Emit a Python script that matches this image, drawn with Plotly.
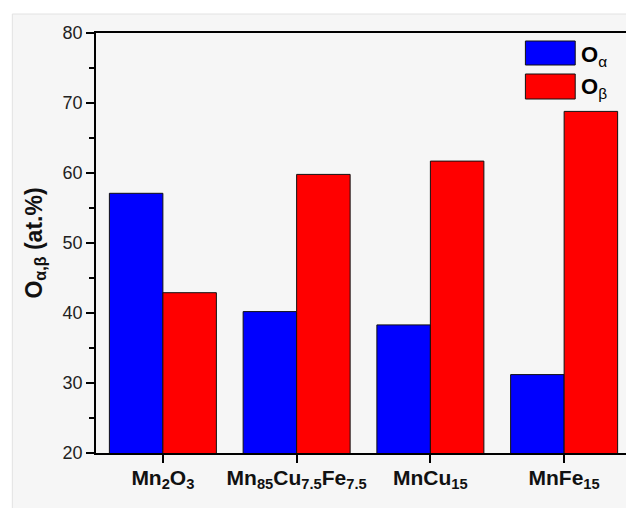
import plotly.graph_objects as go

categories = ["Mn<sub>2</sub>O<sub>3</sub>",
              "Mn<sub>85</sub>Cu<sub>7.5</sub>Fe<sub>7.5</sub>",
              "MnCu<sub>15</sub>",
              "MnFe<sub>15</sub>"]
o_alpha = [57.1, 40.2, 38.3, 31.2]
o_beta = [42.9, 59.8, 61.7, 68.8]
y_ticks = [20, 30, 40, 50, 60, 70, 80]

# page has an 8px body margin; figure occupies page pixels 8..634 / 8..508
OFF = 8
W, H = 626, 500
L, R, T, B = 96 - OFF, 1, 33 - OFF, 55
pw = W - L - R
ph = H - T - B

def px2x(p):
    return (p - OFF - L) / pw

def py2y(p):
    return (H - B - (p - OFF)) / ph

font_family = "Liberation Sans, Arial, sans-serif"

fig = go.Figure()
fig.add_trace(go.Bar(x=list(range(4)), y=o_alpha, name="O<sub>α</sub>",
                     marker=dict(color="#0000ff", line=dict(color="#111111", width=1)),
                     width=0.4, offset=-0.4, showlegend=False))
fig.add_trace(go.Bar(x=list(range(4)), y=o_beta, name="O<sub>β</sub>",
                     marker=dict(color="#ff0000", line=dict(color="#111111", width=1)),
                     width=0.4, offset=0.0, showlegend=False))

shapes = [
    # card background
    dict(type="rect", xref="paper", yref="paper", x0=px2x(12), x1=px2x(700),
         y0=py2y(700), y1=py2y(14), fillcolor="#f6f6f6",
         line=dict(color="#e2e2e2", width=1), layer="below"),
    # legend swatches
    dict(type="rect", xref="paper", yref="paper", x0=px2x(527), x1=px2x(577),
         y0=py2y(65), y1=py2y(41), fillcolor="#0000ff",
         line=dict(color="#111111", width=1)),
    dict(type="rect", xref="paper", yref="paper", x0=px2x(527), x1=px2x(577),
         y0=py2y(99), y1=py2y(74), fillcolor="#ff0000",
         line=dict(color="#111111", width=1)),
]
annotations = [
    dict(xref="paper", yref="paper", x=px2x(581), y=py2y(56), xanchor="left", yanchor="middle",
         text="<b>O</b><sub>α</sub>", showarrow=False,
         font=dict(family=font_family, size=22, color="#000")),
    dict(xref="paper", yref="paper", x=px2x(581), y=py2y(88), xanchor="left", yanchor="middle",
         text="<b>O</b><sub>β</sub>", showarrow=False,
         font=dict(family=font_family, size=22, color="#000")),
]

fig.update_layout(
    width=W, height=H,
    margin=dict(l=L, r=R, t=T, b=B),
    paper_bgcolor="#ffffff",
    plot_bgcolor="#f6f6f6",
    barmode="overlay",
    shapes=shapes,
    annotations=annotations,
    font=dict(family=font_family, color="#111"),
    xaxis=dict(
        range=[-0.5, 3.5],
        tickmode="array", tickvals=list(range(4)),
        ticktext=["<b>" + c + "</b>" for c in categories],
        ticks="outside", ticklen=8, tickwidth=1.5, tickcolor="#000",
        showline=True, linecolor="#000", linewidth=1.5, mirror=True,
        showgrid=False, zeroline=False,
        ticklabelstandoff=-3,
        tickfont=dict(family=font_family, size=21, color="#111"),
    ),
    yaxis=dict(
        range=[20, 80],
        tickmode="array", tickvals=y_ticks,
        ticks="outside", ticklen=8, tickwidth=1.5, tickcolor="#000",
        minor=dict(ticks="outside", ticklen=5, tickwidth=1.5, tickcolor="#000", dtick=5),
        showline=True, linecolor="#000", linewidth=1.5, mirror=True,
        showgrid=False, zeroline=False,
        tickfont=dict(family=font_family, size=18, color="#222"),
        title=dict(text="<b>O<sub>α,β</sub> (at.%)</b>", standoff=14,
                   font=dict(family=font_family, size=23, color="#111")),
    ),
)

fig.write_html("out.html")
